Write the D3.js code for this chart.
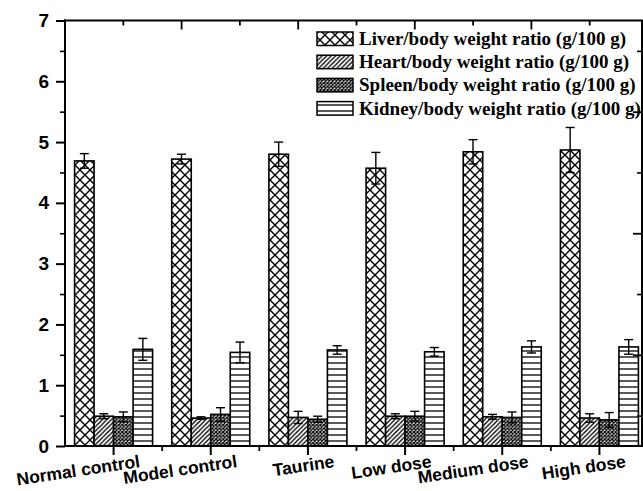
<!DOCTYPE html>
<html><head><meta charset="utf-8">
<script src="https://cdn.jsdelivr.net/npm/d3@7"></script>
<style>body{margin:0;background:#fff}svg{display:block}</style>
</head><body>
<script>
const categories = ["Normal control","Model control","Taurine","Low dose","Medium dose","High dose"];
const seriesNames = ["Liver/body weight ratio (g/100 g)","Heart/body weight ratio (g/100 g)","Spleen/body weight ratio (g/100 g)","Kidney/body weight ratio (g/100 g)"];
const liver = [4.69, 4.72, 4.80, 4.57, 4.84, 4.87];
const liverErr = [0.12, 0.08, 0.20, 0.26, 0.20, 0.37];
const heart = [0.49, 0.46, 0.47, 0.49, 0.48, 0.46];
const heartErr = [0.04, 0.02, 0.10, 0.04, 0.04, 0.07];
const spleen = [0.48, 0.52, 0.44, 0.49, 0.47, 0.43];
const spleenErr = [0.08, 0.11, 0.05, 0.08, 0.09, 0.12];
const kidney = [1.59, 1.54, 1.58, 1.55, 1.63, 1.63];
const kidneyErr = [0.18, 0.17, 0.07, 0.07, 0.10, 0.12];
const yTicks = [0,1,2,3,4,5,6,7];

(function(){
const W = 643, H = 491;
const svg = d3.select("body").append("svg").attr("width", W).attr("height", H);
const defs = svg.append("defs");

// patterns
const pLiver = defs.append("pattern").attr("id","pLiver").attr("patternUnits","userSpaceOnUse").attr("width",10).attr("height",10);
pLiver.append("rect").attr("width",10).attr("height",10).attr("fill","#fff");
pLiver.append("path").attr("d","M0,0L10,10M10,0L0,10").attr("stroke","#000").attr("stroke-width",1.4);
const pHeart = defs.append("pattern").attr("id","pHeart").attr("patternUnits","userSpaceOnUse").attr("width",4.5).attr("height",4.5);
pHeart.append("rect").attr("width",4.5).attr("height",4.5).attr("fill","#fff");
pHeart.append("path").attr("d","M-1,5.5L5.5,-1M-1,1L1,-1M3.5,5.5L5.5,3.5").attr("stroke","#000").attr("stroke-width",1.3);
const pSpleen = defs.append("pattern").attr("id","pSpleen").attr("patternUnits","userSpaceOnUse").attr("width",3.6).attr("height",3.6);
pSpleen.append("rect").attr("width",3.6).attr("height",3.6).attr("fill","#fff");
pSpleen.append("path").attr("d","M0,0L3.6,3.6M3.6,0L0,3.6").attr("stroke","#000").attr("stroke-width",1.2);
const pKidney = defs.append("pattern").attr("id","pKidney").attr("patternUnits","userSpaceOnUse").attr("width",10).attr("height",6);
pKidney.append("rect").attr("width",10).attr("height",6).attr("fill","#fff");
pKidney.append("path").attr("d","M0,3L10,3").attr("stroke","#000").attr("stroke-width",1.3);

const fills = ["url(#pLiver)","url(#pHeart)","url(#pSpleen)","url(#pKidney)"];
const values = [liver, heart, spleen, kidney];
const errs = [liverErr, heartErr, spleenErr, kidneyErr];

const pL = 65, pR = 648, pT = 20.5, pB = 446;
const x = d3.scaleBand().domain(categories).range([pL, pR]).paddingInner(0).paddingOuter(0);
const y = d3.scaleLinear().domain([0, 7]).range([pB, pT]);
const barW = 19.5;
const inner = d3.scaleBand().domain(d3.range(4)).range([-2*barW, 2*barW]);

// bars
const g = svg.append("g");
values.forEach((vals, s) => {
  g.selectAll(null).data(vals).enter().append("rect")
    .attr("x", (d,i) => x(categories[i]) + x.bandwidth()/2 + inner(s))
    .attr("y", d => y(d))
    .attr("width", inner.bandwidth())
    .attr("height", d => y(0) - y(d))
    .attr("fill", fills[s]).attr("stroke","#000").attr("stroke-width",1.6);
});
// error bars
values.forEach((vals, s) => {
  vals.forEach((v, i) => {
    const cx = x(categories[i]) + x.bandwidth()/2 + inner(s) + inner.bandwidth()/2;
    const e = errs[s][i];
    const eg = g.append("g").attr("stroke","#000").attr("stroke-width",1.4).attr("fill","none");
    eg.append("line").attr("x1",cx).attr("x2",cx).attr("y1",y(v+e)).attr("y2",y(v-e));
    eg.append("line").attr("x1",cx-4.5).attr("x2",cx+4.5).attr("y1",y(v+e)).attr("y2",y(v+e));
    eg.append("line").attr("x1",cx-4.5).attr("x2",cx+4.5).attr("y1",y(v-e)).attr("y2",y(v-e));
  });
});

// axes
const axG = svg.append("g").attr("stroke","#000").attr("stroke-width",2).attr("fill","none");
axG.append("line").attr("x1",pL).attr("x2",pL).attr("y1",pT-1).attr("y2",pB+1);
axG.append("line").attr("x1",pL-1).attr("x2",643).attr("y1",pB).attr("y2",pB);
axG.append("line").attr("x1",pL-1).attr("x2",643).attr("y1",pT).attr("y2",pT);
axG.append("line").attr("x1",642).attr("x2",642).attr("y1",pT).attr("y2",pB);

// left y axis
const yAxis = d3.axisLeft(y).tickValues(yTicks).tickFormat(d3.format("d")).tickSize(9).tickPadding(7);
const ya = svg.append("g").attr("transform",`translate(${pL},0)`).call(yAxis);
ya.select(".domain").remove();
ya.selectAll(".tick line").attr("stroke-width",2);
ya.selectAll(".tick text").attr("font-family","'Liberation Sans', Arial, sans-serif").attr("font-weight","bold").attr("font-size","19px").attr("fill","#000");
const yMinor = d3.axisLeft(y).tickValues(d3.range(0.5, 7, 1)).tickFormat("").tickSize(5);
const ym = svg.append("g").attr("transform",`translate(${pL},0)`).call(yMinor);
ym.select(".domain").remove();
ym.selectAll(".tick line").attr("stroke-width",1.6);

// right axis ticks (inward)
const rMajor = d3.axisRight(y).tickValues([1.5,3.5,5.5]).tickFormat("").tickSize(-9);
const rm = svg.append("g").attr("transform","translate(642,0)").call(rMajor);
rm.select(".domain").remove(); rm.selectAll(".tick line").attr("stroke-width",1.8);
const rMinor = d3.axisRight(y).tickValues([0.5,2.5,4.5,6.5]).tickFormat("").tickSize(-5);
const rn = svg.append("g").attr("transform","translate(642,0)").call(rMinor);
rn.select(".domain").remove(); rn.selectAll(".tick line").attr("stroke-width",1.6);

// bottom axis
const xAxis = d3.axisBottom(x).tickSize(9).tickFormat("");
const xa = svg.append("g").attr("transform",`translate(0,${pB})`).call(xAxis);
xa.select(".domain").remove();
xa.selectAll(".tick line").attr("stroke-width",2);
const xMinorPos = categories.slice(1).map(c => x(c));
svg.append("g").selectAll("line").data(xMinorPos).enter().append("line")
  .attr("x1",d=>d).attr("x2",d=>d).attr("y1",pB).attr("y2",pB+5)
  .attr("stroke","#000").attr("stroke-width",1.8);

// category labels
svg.append("g").selectAll("text").data(categories).enter().append("text")
  .attr("transform", d => `translate(${x(d)+x.bandwidth()/2+27},467) rotate(-8.5)`)
  .attr("text-anchor","end")
  .attr("font-family","'Liberation Sans', Arial, sans-serif").attr("font-weight","bold").attr("font-size","17.5px")
  .attr("fill","#000").text(d => d);

// top axis ticks (inward)
const xt = d3.scaleLinear().domain([0,10]).range([pL, pR]);
svg.append("g").selectAll("line").data(d3.range(1,10)).enter().append("line")
  .attr("x1",d=>xt(d)).attr("x2",d=>xt(d)).attr("y1",pT).attr("y2",d => d%2===0 ? pT+9 : pT+5)
  .attr("stroke","#000").attr("stroke-width",1.8);

// legend
const lg = svg.append("g");
seriesNames.forEach((name, i) => {
  const ty = 32 + i*23.2;
  lg.append("rect").attr("x",317).attr("y",ty).attr("width",36).attr("height",13.5)
    .attr("fill",fills[i]).attr("stroke","#000").attr("stroke-width",1.5);
  lg.append("text").attr("x",359).attr("y",ty+13)
    .attr("font-family","'Liberation Serif', 'Times New Roman', serif").attr("font-weight","bold").attr("font-size","19px")
    .attr("fill","#000").text(name);
});
})();
</script>
</body></html>
